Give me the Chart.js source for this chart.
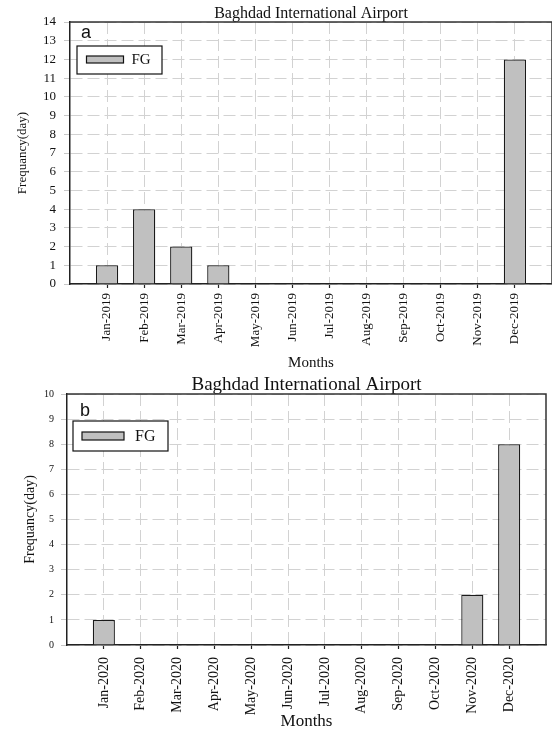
<!DOCTYPE html>
<html><head><meta charset="utf-8">
<script src="https://cdn.jsdelivr.net/npm/chart.js@4.4.1/dist/chart.umd.min.js"></script>
<style>
html,body{margin:0;padding:0;background:#fff;}
body{width:552px;height:730px;position:relative;overflow:hidden;}
#wa{position:absolute;left:0;top:0;width:552px;height:372px;}
#wb{position:absolute;left:0;top:365px;width:552px;height:365px;}
</style></head><body>
<div id="wa"><canvas id="ca"></canvas></div>
<div id="wb"><canvas id="cb"></canvas></div>
<script>
const chartTitle = 'Baghdad International Airport';
const xAxisTitle = 'Months';
const yAxisTitle = 'Frequancy(day)';
const seriesName = 'FG';
const months2019 = ['Jan-2019','Feb-2019','Mar-2019','Apr-2019','May-2019','Jun-2019','Jul-2019','Aug-2019','Sep-2019','Oct-2019','Nov-2019','Dec-2019'];
const fg2019 = [1,4,2,1,0,0,0,0,0,0,0,12];
const months2020 = ['Jan-2020','Feb-2020','Mar-2020','Apr-2020','May-2020','Jun-2020','Jul-2020','Aug-2020','Sep-2020','Oct-2020','Nov-2020','Dec-2020'];
const fg2020 = [1,0,0,0,0,0,0,0,0,0,2,8];
const panelLetterA = 'a';
const panelLetterB = 'b';
const yMaxA = 14;
const yMaxB = 10;

const SERIF = '"Liberation Serif", "Times New Roman", serif';
const SANS = '"Liberation Sans", Arial, sans-serif';

const decor = {
  id: 'decor',
  afterDatasetsDraw(chart, args, o) {
    const {ctx, chartArea: ca} = chart;
    ctx.save();
    ctx.strokeStyle = '#333'; ctx.lineWidth = 1.5;
    ctx.beginPath();
    ctx.moveTo(ca.left, ca.top); ctx.lineTo(ca.right, ca.top); ctx.lineTo(ca.right, ca.bottom);
    ctx.stroke();
    const ds = chart.data.datasets[0];
    const L = o.legend;
    const fx = ca.left + L.dx, fy = ca.top + L.dy;
    ctx.fillStyle = '#fff';
    ctx.fillRect(fx, fy, L.w, L.h);
    ctx.lineWidth = 1.2; ctx.strokeStyle = '#111';
    ctx.strokeRect(fx, fy, L.w, L.h);
    ctx.fillStyle = ds.backgroundColor;
    ctx.fillRect(fx + L.sx, fy + L.sy, L.sw, L.sh);
    ctx.lineWidth = 1.2;
    ctx.strokeRect(fx + L.sx, fy + L.sy, L.sw, L.sh);
    ctx.fillStyle = '#111'; ctx.font = L.font; ctx.textBaseline = 'middle'; ctx.textAlign = 'left';
    ctx.fillText(ds.label, fx + L.sx + L.sw + L.gap, fy + L.sy + L.sh / 2 + 1);
    ctx.font = o.letterFont; ctx.textBaseline = 'alphabetic';
    ctx.fillText(o.letter, ca.left + o.lx, ca.top + o.ly);
    ctx.restore();
  }
};

function makeChart(id, labels, values, yMax, letter, s) {
  const pts = values.map((v, i) => ({x: i, y: v}));
  return new Chart(document.getElementById(id), {
    type: 'bar',
    data: { datasets: [{
      label: seriesName, data: pts,
      backgroundColor: '#c0c0c0', borderColor: '#1a1a1a',
      borderWidth: (c) => (c.raw && c.raw.y === 0 ? 0 : 1.3),
      borderSkipped: 'start',
      barPercentage: 0.6, categoryPercentage: 1.0
    }]},
    plugins: [decor],
    options: {
      responsive: true, maintainAspectRatio: false, animation: false, devicePixelRatio: 1,
      layout: { padding: { left: 0, right: s.padRight, top: 0, bottom: 0 } },
      plugins: {
        legend: { display: false },
        tooltip: { enabled: false },
        title: { display: true, text: chartTitle, fullSize: false, color: '#111',
          font: { family: SERIF, size: s.titleSize, lineHeight: 1, weight: 'normal' },
          padding: { top: s.titlePadTop, bottom: s.titlePadBottom } },
        decor: { legend: s.legend, letter: letter, letterFont: s.letterFont, lx: s.lx, ly: s.ly }
      },
      scales: {
        x: {
          type: 'linear', min: -1, max: 12, offset: false,
          afterBuildTicks: (sc) => { sc.ticks = labels.map((_, i) => ({value: i})); },
          afterFit: (sc) => { sc.height = s.xHeight; },
          ticks: { stepSize: 1, autoSkip: false, minRotation: 90, maxRotation: 90, color: '#111',
            padding: s.xTickPad, font: { family: SERIF, size: s.xTickSize },
            callback: (v) => labels[v] ?? '' },
          grid: { offset: false, color: '#d2d2d2', lineWidth: 1, tickColor: '#222', tickLength: 4, tickWidth: 1.2, tickBorderDash: [] },
          border: { display: true, color: '#222', width: 1.5, dash: [12, 5] },
          title: { display: true, text: xAxisTitle, color: '#111',
            font: { family: SERIF, size: s.xTitleSize, lineHeight: 1 },
            padding: { top: 0, bottom: s.xTitlePadBottom } }
        },
        y: {
          min: 0, max: yMax,
          afterFit: (sc) => { sc.width = s.yWidth; },
          ticks: { stepSize: 1, color: '#111', padding: s.yTickPad, font: { family: SERIF, size: s.yTickSize } },
          grid: { color: '#d2d2d2', lineWidth: 1, tickColor: '#c8c8c8', tickLength: 6, tickWidth: 1, tickBorderDash: [] },
          border: { display: true, color: '#222', width: 1.5, dash: [12, 5] },
          title: { display: true, text: yAxisTitle, color: '#111',
            font: { family: SERIF, size: s.yTitleSize, lineHeight: 1 },
            padding: { top: s.yTitlePadTop, bottom: 0 } }
        }
      }
    }
  });
}

makeChart('ca', months2019, fg2019, yMaxA, panelLetterA, {
  padRight: 0, titleSize: 16, titlePadTop: 6, titlePadBottom: 0,
  xHeight: 88, xTickPad: 5, xTickSize: 13, xTitleSize: 15, xTitlePadBottom: 1.5,
  yWidth: 70, yTickPad: 8, yTickSize: 13, yTitleSize: 13, yTitlePadTop: 16.5,
  legend: { dx: 7, dy: 24, w: 85, h: 28, sx: 9.5, sy: 10, sw: 37, sh: 7, gap: 8, font: '15px ' + SERIF },
  letterFont: '18px ' + SANS, lx: 11, ly: 16
});

makeChart('cb', months2020, fg2020, yMaxB, panelLetterB, {
  padRight: 6, titleSize: 19, titlePadTop: 10.5, titlePadBottom: -0.5,
  xHeight: 85, xTickPad: 8, xTickSize: 14, xTitleSize: 17, xTitlePadBottom: 0,
  yWidth: 67, yTickPad: 7, yTickSize: 10, yTitleSize: 14, yTitlePadTop: 23,
  legend: { dx: 6, dy: 27, w: 95, h: 30, sx: 9, sy: 11, sw: 42, sh: 8, gap: 11, font: '16px ' + SERIF },
  letterFont: '18px ' + SANS, lx: 13, ly: 22
});
</script>
</body></html>
